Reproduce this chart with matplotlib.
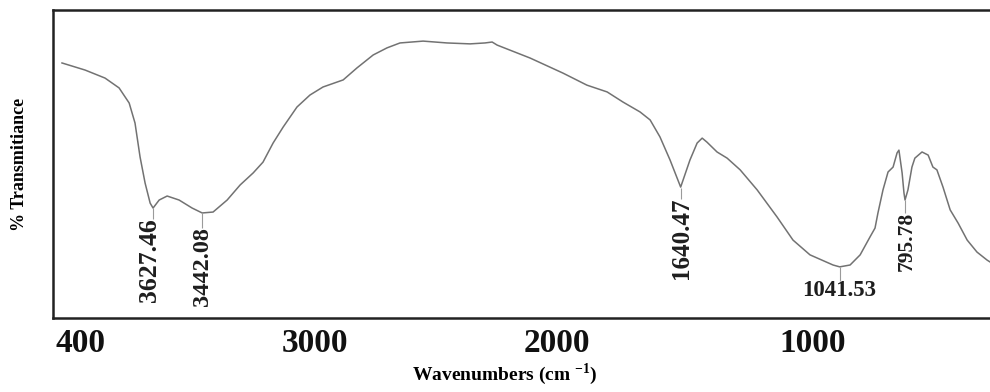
import numpy as np
import matplotlib
matplotlib.use("Agg")
import matplotlib.pyplot as plt

plt.rcParams['font.family'] = ['Liberation Serif', 'DejaVu Serif']
plt.rcParams['mathtext.fontset'] = 'custom'
plt.rcParams['mathtext.rm'] = 'Liberation Serif'
plt.rcParams['mathtext.bf'] = 'Liberation Serif:bold'

# FTIR spectrum (wavenumber cm-1, % transmittance)
wavenumber = [3970, 3883, 3808, 3755, 3717, 3695, 3676, 3657, 3638, 3627,
              3604, 3574, 3529, 3480, 3442, 3401, 3348, 3299, 3250, 3213,
              3175, 3137, 3085, 3036, 2987, 2911, 2859, 2798, 2746, 2697,
              2610, 2520, 2433, 2377, 2350, 2331, 2207, 2083, 1993, 1917,
              1857, 1793, 1755, 1718, 1680, 1640, 1605, 1578, 1559, 1541,
              1503, 1465, 1416, 1352, 1277, 1217, 1153, 1066, 1041, 1002,
              964, 927, 908, 897, 878, 859, 840, 825, 818, 806,
              799, 795, 784, 769, 758, 731, 708, 690, 675, 652,
              625, 595, 561, 524, 486, 475]
transmittance = [82.8, 80.5, 77.9, 74.7, 69.8, 63.3, 52.3, 43.8, 37.3, 35.7,
                 38.3, 39.6, 38.3, 35.7, 34.1, 34.4, 38.3, 43.2, 47.1, 50.6,
                 56.8, 62.0, 68.5, 72.4, 75.0, 77.3, 81.2, 85.4, 87.7, 89.3,
                 89.9, 89.3, 89.0, 89.3, 89.6, 88.6, 84.4, 79.5, 75.6, 73.4,
                 70.1, 66.9, 64.3, 58.8, 51.3, 42.5, 51.3, 56.8, 58.4, 57.1,
                 53.9, 51.9, 48.1, 41.6, 32.8, 25.3, 20.5, 17.2, 16.6, 17.2,
                 20.5, 26.3, 29.2, 34.1, 41.6, 47.4, 49.0, 53.6, 54.5, 47.1,
                 40.6, 38.3, 41.6, 49.0, 51.9, 53.9, 52.9, 49.0, 48.1, 42.5,
                 35.1, 30.8, 25.3, 21.4, 18.8, 18.2]

# peak annotations
peak_labels = ['3627.46', '3442.08', '1640.47', '1041.53', '795.78']
peak_wn = [3627, 3442, 1640, 1041, 795]
peak_min = [35.7, 34.1, 42.2, 16.6, 38.3]
label_x = [3640, 3439, 1635, 1044, 788]
label_y = [32.5, 29.5, 39.0, 12.3, 34.4]

# tick labels as printed under the axis
tick_pos = [3902, 3017, 2106, 1142]
tick_text = ['400', '3000', '2000', '1000']

label_rot = [90, 90, 90, 0, 90]
label_size = [18.5, 17.5, 18, 16.5, 15.5]

fig = plt.figure(figsize=(9.9, 3.92), dpi=100)
ax = fig.add_axes([0.0535, 0.1888, 0.9465, 0.7857])

ax.plot(wavenumber, transmittance, color='#727272', lw=1.1)

# little leader lines from each band down to its label
ax.vlines(peak_wn, [y - 0.3 for y in label_y], peak_min, color='#9a9a9a', lw=0.8)

for lab, x, y, r, fs in zip(peak_labels, label_x, label_y, label_rot, label_size):
    ax.text(x, y, lab, rotation=r, ha='center', va='top',
            fontsize=fs, fontweight='bold', color='#1e1e1e')

ax.set_xlim(4004, 475)
ax.set_ylim(0, 100)
ax.set_xticks(tick_pos)
ax.set_xticklabels(tick_text, fontsize=24, fontweight='bold', color='#111111')
ax.tick_params(axis='x', length=0, pad=7)
ax.set_yticks([])

for s in ['left', 'top', 'bottom']:
    ax.spines[s].set_linewidth(1.8)
    ax.spines[s].set_color('#222222')
ax.spines['right'].set_visible(False)

ax.set_ylabel('% Transmitiance', fontsize=13, fontweight='bold')
ax.yaxis.set_label_coords(-0.027, 0.5)
ax.set_xlabel('Wavenumbers (cm $^{\\mathbf{-1}}$)', fontsize=14, fontweight='bold')
ax.xaxis.set_label_coords(0.482, -0.14)

fig.savefig('out.png', dpi=100)
